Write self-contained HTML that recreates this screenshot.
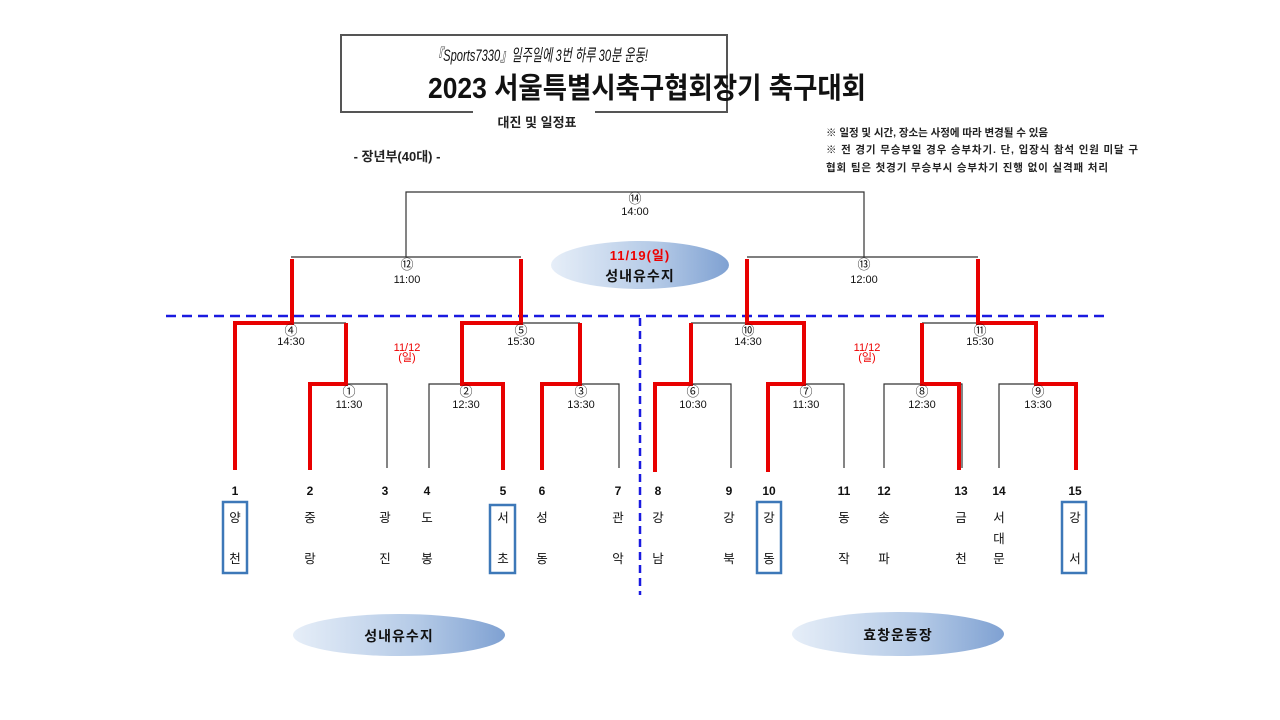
<!DOCTYPE html>
<html><head><meta charset="utf-8"><style>
html,body{margin:0;padding:0;background:#fff;}
svg{display:block;font-family:"Liberation Sans","Noto Sans CJK KR",sans-serif;}
</style></head><body>
<svg width="1280" height="720" viewBox="0 0 1280 720" xmlns="http://www.w3.org/2000/svg">
<defs>
<linearGradient id="g" x1="0" x2="1" y1="0" y2="0">
<stop offset="0" stop-color="#e6eef8"/><stop offset="0.6" stop-color="#b3c9e6"/><stop offset="1" stop-color="#7fa1d2"/>
</linearGradient>
</defs>
<path d="M473 112 H341 V35 H727 V112 H595" fill="none" stroke="#555" stroke-width="2"/>
<text x="432" y="61" font-size="17" font-style="italic" fill="#111" textLength="216" lengthAdjust="spacingAndGlyphs">『Sports7330』일주일에 3번 하루 30분 운동!</text>
<text x="428" y="98" font-size="29" font-weight="bold" fill="#111" textLength="438" lengthAdjust="spacingAndGlyphs">2023 서울특별시축구협회장기 축구대회</text>
<text x="537" y="127" font-size="13" font-weight="bold" text-anchor="middle" fill="#222">대진 및 일정표</text>
<text x="397" y="161" font-size="13" font-weight="bold" text-anchor="middle" fill="#222">- 장년부(40대) -</text>
<g font-size="10.5" font-weight="bold" fill="#222">
<text x="826" y="136" textLength="222" lengthAdjust="spacing">※ 일정 및 시간, 장소는 사정에 따라 변경될 수 있음</text>
<text x="826" y="153" textLength="312" lengthAdjust="spacing">※ 전 경기 무승부일 경우 승부차기. 단, 입장식 참석 인원 미달 구</text>
<text x="826" y="171" textLength="282" lengthAdjust="spacing">협회 팀은 첫경기 무승부시 승부차기 진행 없이 실격패 처리</text>
</g>
<ellipse cx="640" cy="265" rx="89" ry="24" fill="url(#g)"/>
<ellipse cx="399" cy="635" rx="106" ry="21" fill="url(#g)"/>
<ellipse cx="898" cy="634" rx="106" ry="22" fill="url(#g)"/>
<text x="640" y="260" font-size="13" font-weight="bold" fill="#e00" text-anchor="middle" letter-spacing="1">11/19(일)</text>
<text x="640" y="281" font-size="14" font-weight="bold" fill="#111" text-anchor="middle" letter-spacing="1">성내유수지</text>
<text x="399" y="641" font-size="14" font-weight="bold" fill="#111" text-anchor="middle" letter-spacing="1">성내유수지</text>
<text x="898" y="640" font-size="14" font-weight="bold" fill="#111" text-anchor="middle" letter-spacing="1">효창운동장</text>
<line x1="166" y1="316" x2="1110" y2="316" stroke="#1a1ae0" stroke-width="2.5" stroke-dasharray="10,6"/>
<line x1="640" y1="318" x2="640" y2="595" stroke="#1a1ae0" stroke-width="2.5" stroke-dasharray="8,5"/>
<g stroke="#333" stroke-width="1.2" fill="none">
<path d="M406 257 V192 H864 V257"/>
<path d="M291 257 H521"/><path d="M747 257 H978"/>
<path d="M235 323 H346"/><path d="M462 323 H580"/>
<path d="M691 323 H804"/><path d="M922 323 H1036"/>
<path d="M310 384 H387 V468"/><path d="M429 468 V384 H503"/><path d="M542 384 H619 V468"/>
<path d="M655 384 H731 V468"/><path d="M768 384 H844 V468"/><path d="M884 468 V384 H962 V468"/><path d="M999 468 V384 H1076"/>
</g>
<g stroke="#e80000" stroke-width="4" fill="none">
<path d="M235 470 V323 H292 V259"/>
<path d="M310 470 V384 H346 V323"/>
<path d="M521 259 V323 H462 V384 H503 V470"/>
<path d="M542 470 V384 H580 V323"/>
<path d="M655 472 V384 H691 V323"/>
<path d="M747 259 V323 H804 V384 H768 V472"/>
<path d="M978 259 V323 H1036 V384 H1076 V470"/>
<path d="M922 323 V384 H959 V470"/>
</g>
<g font-size="11" fill="#111" text-anchor="middle">
<g font-size="13">
<text x="635" y="203">⑭</text><text x="407" y="269">⑫</text><text x="864" y="269">⑬</text>
<text x="291" y="335">④</text><text x="521" y="335">⑤</text><text x="748" y="335">⑩</text><text x="980" y="335">⑪</text>
<text x="349" y="396">①</text><text x="466" y="396">②</text><text x="581" y="396">③</text>
<text x="693" y="396">⑥</text><text x="806" y="396">⑦</text><text x="922" y="396">⑧</text><text x="1038" y="396">⑨</text>
</g>
<text x="635" y="215">14:00</text>
<text x="407" y="283">11:00</text>
<text x="864" y="283">12:00</text>
<text x="291" y="345">14:30</text>
<text x="521" y="345">15:30</text>
<text x="748" y="345">14:30</text>
<text x="980" y="345">15:30</text>
<text x="349" y="408">11:30</text>
<text x="466" y="408">12:30</text>
<text x="581" y="408">13:30</text>
<text x="693" y="408">10:30</text>
<text x="806" y="408">11:30</text>
<text x="922" y="408">12:30</text>
<text x="1038" y="408">13:30</text>
</g>
<g font-size="11" fill="#e00" text-anchor="middle">
<text x="407" y="351">11/12</text><text x="407" y="361">(일)</text>
<text x="867" y="351">11/12</text><text x="867" y="361">(일)</text>
</g>
<g stroke="#3d78b8" stroke-width="2.5" fill="none">
<rect x="223" y="502" width="24" height="71"/>
<rect x="490" y="505" width="25" height="68"/>
<rect x="757" y="502" width="24" height="71"/>
<rect x="1062" y="502" width="24" height="71"/>
</g>
<g font-size="12" font-weight="bold" fill="#111" text-anchor="middle">
<text x="235" y="495">1</text><text x="310" y="495">2</text><text x="385" y="495">3</text><text x="427" y="495">4</text><text x="503" y="495">5</text><text x="542" y="495">6</text><text x="618" y="495">7</text>
<text x="658" y="495">8</text><text x="729" y="495">9</text><text x="769" y="495">10</text><text x="844" y="495">11</text><text x="884" y="495">12</text><text x="961" y="495">13</text><text x="999" y="495">14</text><text x="1075" y="495">15</text>
</g>
<g font-size="12.5" fill="#111" text-anchor="middle">
<text x="235" y="522">양</text><text x="235" y="563">천</text>
<text x="310" y="522">중</text><text x="310" y="563">랑</text>
<text x="385" y="522">광</text><text x="385" y="563">진</text>
<text x="427" y="522">도</text><text x="427" y="563">봉</text>
<text x="503" y="522">서</text><text x="503" y="563">초</text>
<text x="542" y="522">성</text><text x="542" y="563">동</text>
<text x="618" y="522">관</text><text x="618" y="563">악</text>
<text x="658" y="522">강</text><text x="658" y="563">남</text>
<text x="729" y="522">강</text><text x="729" y="563">북</text>
<text x="769" y="522">강</text><text x="769" y="563">동</text>
<text x="844" y="522">동</text><text x="844" y="563">작</text>
<text x="884" y="522">송</text><text x="884" y="563">파</text>
<text x="961" y="522">금</text><text x="961" y="563">천</text>
<text x="999" y="522">서</text><text x="999" y="543">대</text><text x="999" y="563">문</text>
<text x="1075" y="522">강</text><text x="1075" y="563">서</text>
</g>
</svg>
</body></html>
